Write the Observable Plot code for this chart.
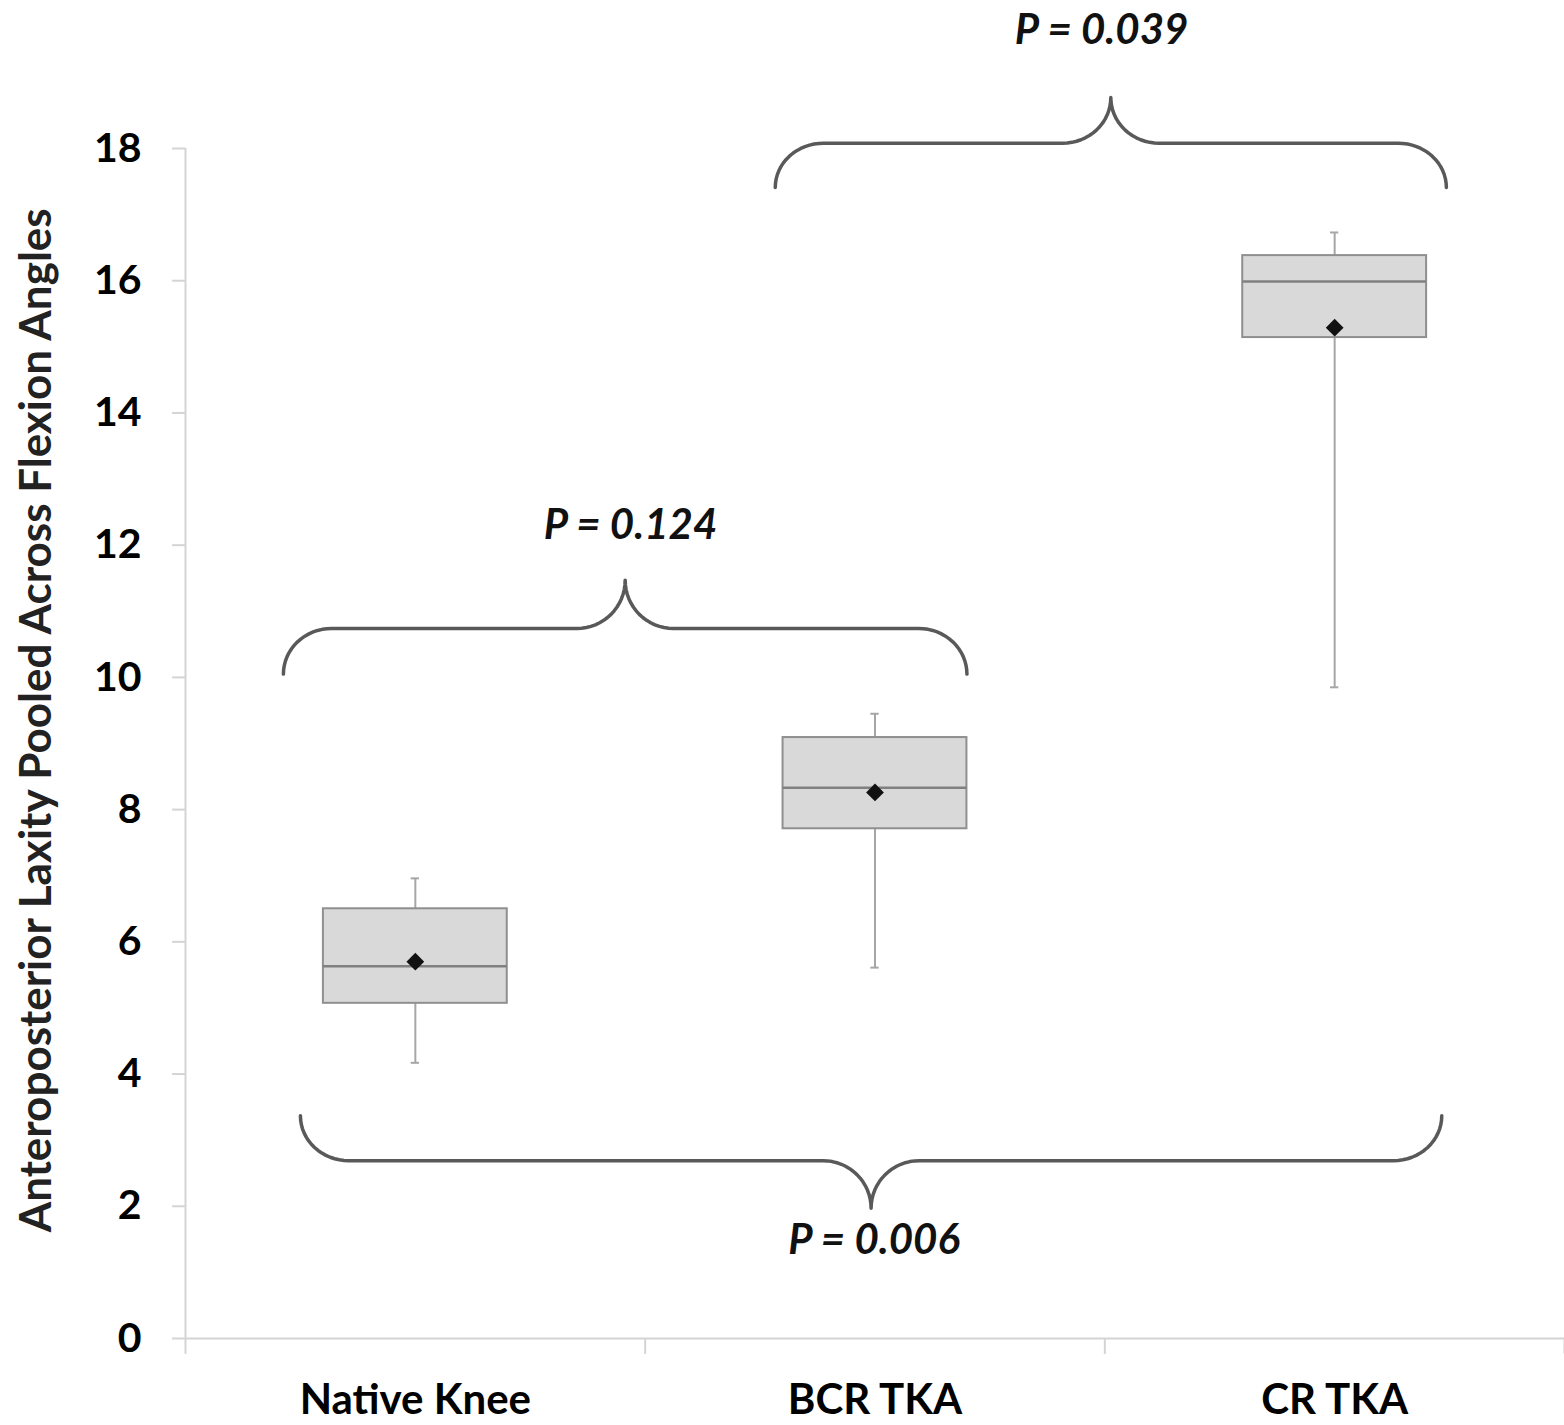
<!DOCTYPE html>
<html>
<head>
<meta charset="utf-8">
<script src="https://cdn.jsdelivr.net/npm/d3@7"></script>
<script src="https://cdn.jsdelivr.net/npm/@observablehq/plot@0.6"></script>
<style>
  html, body { margin: 0; padding: 0; background: #fff; }
  #chart svg { display: block; }
</style>
</head>
<body>
<div id="chart"></div>
<script>
// ---- data ----
const categories = ["Native Knee", "BCR TKA", "CR TKA"];
const whiskerLow  = [4.17, 5.61, 9.85];
const q1          = [5.07, 7.71, 15.14];
const median      = [5.63, 8.33, 15.99];
const q3          = [6.50, 9.09, 16.38];
const whiskerHigh = [6.96, 9.45, 16.73];
const mean        = [5.70, 8.26, 15.29];
const yTicks = [0, 2, 4, 6, 8, 10, 12, 14, 16, 18];
const yLabel = "Anteroposterior Laxity Pooled Across Flexion Angles";

// significance annotations
const pLabels   = ["P = 0.124", "P = 0.039", "P = 0.006"];
const braceFrom = [0.213, 1.283, 0.25];
const braceTo   = [1.70, 2.743, 2.733];
const braceEnd  = [10.05, 17.41, 3.37];
const braceMid  = [10.74, 18.08, 2.69];
const braceTip  = [11.47, 18.77, 1.97];
const labelX    = [0.968, 1.993, 1.498];
const labelY    = [12.30, 19.78, 1.48];

// ---- derived tables ----
const boxes = categories.map((c, i) => ({
  c, pos: i + 0.5, lo: whiskerLow[i], q1: q1[i], med: median[i], q3: q3[i], hi: whiskerHigh[i], mean: mean[i]
}));

const dxCurve = 0.105;
const braces = [];
pLabels.forEach((p, k) => {
  const x0 = braceFrom[k], x1 = braceTo[k], xm = (x0 + x1) / 2;
  const ye = braceEnd[k], ym = braceMid[k], yt = braceTip[k];
  const pts = [];
  const n = 16;
  for (let j = 0; j <= n; j++) { const t = j / n * Math.PI / 2;
    pts.push([x0 + dxCurve - dxCurve * Math.cos(t), ye + (ym - ye) * Math.sin(t)]); }
  for (let j = 0; j <= n; j++) { const t = j / n * Math.PI / 2;
    pts.push([xm - dxCurve + dxCurve * Math.sin(t), yt + (ym - yt) * Math.cos(t)]); }
  for (let j = n; j >= 0; j--) { const t = j / n * Math.PI / 2;
    pts.push([xm + dxCurve - dxCurve * Math.sin(t), yt + (ym - yt) * Math.cos(t)]); }
  for (let j = n; j >= 0; j--) { const t = j / n * Math.PI / 2;
    pts.push([x1 - dxCurve + dxCurve * Math.cos(t), ye + (ym - ye) * Math.sin(t)]); }
  pts.forEach(([x, y]) => braces.push({k, x, y}));
});
const pText = pLabels.map((p, k) => ({p, x: labelX[k], y: labelY[k]}));

const chart = Plot.plot({
  width: 1564,
  height: 1425,
  marginLeft: 185,
  marginRight: 0,
  marginTop: 148,
  marginBottom: 87,
  style: { fontFamily: "Lato, 'Open Sans', sans-serif", color: "#000", background: "#fff" },
  x: { type: "linear", domain: [0, 3], axis: null },
  y: { domain: [0, 18], axis: null },
  marks: [
    // axis lines
    Plot.ruleX([0], { y1: 0, y2: 18, stroke: "#d4d4d4", strokeWidth: 2 }),
    Plot.ruleY([0], { x1: 0, x2: 3, stroke: "#d4d4d4", strokeWidth: 2 }),
    Plot.ruleY(yTicks, { y: d => d, x1: -0.028, x2: 0, stroke: "#d4d4d4", strokeWidth: 2 }),
    Plot.ruleX([0, 1, 2, 3], { y1: 0, y2: -0.24, stroke: "#d4d4d4", strokeWidth: 2 }),
    Plot.axisY({ ticks: yTicks, tickSize: 0, tickPadding: 44, fontSize: 41, fontWeight: "bold", anchor: "left", label: null }),
    Plot.axisX({ ticks: [0.5, 1.5, 2.5], tickFormat: (d) => categories[Math.floor(d)], tickSize: 0, tickPadding: 46, fontSize: 42, fontWeight: "bold", anchor: "bottom", label: null }),
    // y label
    Plot.text([yLabel], { x: 0, y: 9.35, dx: -149, rotate: -90, text: d => d, fontSize: 44, fontWeight: "bold", fill: "#222" }),
    // whiskers
    Plot.ruleX(boxes, { x: "pos", y1: "lo", y2: "q1", stroke: "#a6a6a6", strokeWidth: 2 }),
    Plot.ruleX(boxes, { x: "pos", y1: "q3", y2: "hi", stroke: "#a6a6a6", strokeWidth: 2 }),
    Plot.ruleY(boxes, { y: "lo", x1: d => d.pos - 0.009, x2: d => d.pos + 0.009, stroke: "#a6a6a6", strokeWidth: 2 }),
    Plot.ruleY(boxes, { y: "hi", x1: d => d.pos - 0.009, x2: d => d.pos + 0.009, stroke: "#a6a6a6", strokeWidth: 2 }),
    // boxes
    Plot.rect(boxes, { x1: d => d.pos - 0.2, x2: d => d.pos + 0.2, y1: "q1", y2: "q3", fill: "#d9d9d9", stroke: "#8f8f8f", strokeWidth: 2 }),
    Plot.ruleY(boxes, { y: "med", x1: d => d.pos - 0.2, x2: d => d.pos + 0.2, stroke: "#808080", strokeWidth: 2.5 }),
    Plot.dot(boxes, { x: "pos", y: "mean", symbol: "diamond2", r: 8, fill: "#111", stroke: "none" }),
    // braces
    Plot.line(braces, { x: "x", y: "y", z: "k", stroke: "#595959", strokeWidth: 3.5, curve: "linear" }),
    Plot.text(pText, { x: "x", y: "y", text: "p", fontSize: 42, fontWeight: "bold", fontStyle: "italic", fill: "#111" })
  ]
});
document.getElementById("chart").appendChild(chart);
</script>
</body>
</html>
